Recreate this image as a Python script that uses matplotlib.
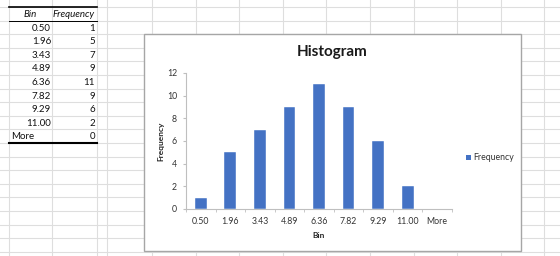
import matplotlib.pyplot as plt
from matplotlib.patches import Rectangle
import numpy as np

# data from the Analysis ToolPak output
bin_labels = ['0.50', '1.96', '3.43', '4.89', '6.36', '7.82', '9.29', '11.00', 'More']
freqs = [1, 5, 7, 9, 11, 9, 6, 2, 0]

plt.rcParams['font.family'] = ['Lato', 'DejaVu Sans']

W, H = 560, 256
fig = plt.figure(figsize=(W / 100, H / 100), dpi=100)

# spreadsheet background, pixel coordinates
bg = fig.add_axes([0, 0, 1, 1])
bg.set_xlim(0, W)
bg.set_ylim(H, 0)
bg.axis('off')

grid_c = '#dedede'
row_y = [7 + 13.6 * k for k in range(19)]
col_x = [9, 52, 96.5, 107] + [152 + 43.6 * k for k in range(10)]
for y in row_y:
    bg.plot([0, W], [y, y], color=grid_c, lw=0.8, zorder=1)
for x in col_x:
    bg.plot([x, x], [0, H], color=grid_c, lw=0.8, zorder=1)

# output table
txt_c = '#111111'
fs_t = 7
bg.text(30.5, 14.5, 'Bin', ha='center', va='center', style='italic', fontsize=fs_t, color=txt_c, zorder=3)
bg.text(74, 14.5, 'Frequency', ha='center', va='center', style='italic', fontsize=fs_t, color=txt_c, zorder=3)
for i, (lab, f) in enumerate(zip(bin_labels, freqs)):
    yc = 14.5 + 13.6 * (i + 1)
    if lab == 'More':
        bg.text(11, yc, lab, ha='left', va='center', fontsize=fs_t, color=txt_c, zorder=3)
    else:
        bg.text(51, yc, lab, ha='right', va='center', fontsize=fs_t, color=txt_c, zorder=3)
    bg.text(95, yc, str(f), ha='right', va='center', fontsize=fs_t, color=txt_c, zorder=3)
bg.plot([9, 97], [7, 7], color='black', lw=1.2, zorder=3)
bg.plot([9, 97], [21, 21], color='black', lw=0.7, zorder=3)
bg.plot([9, 97], [143, 143], color='black', lw=1.5, zorder=3)

# chart area
bg.add_patch(Rectangle((144, 34), 521 - 144, 251 - 34, facecolor='white',
                       edgecolor='#a6a6a6', lw=1.0, zorder=2))
bg.text(332, 52, 'Histogram', ha='center', va='center', fontsize=11,
        fontweight='bold', color='#1a1a1a', zorder=3)
bg.text(161, 141, 'Frequency', ha='center', va='center', rotation=90,
        fontsize=6, fontweight='bold', color='#262626', zorder=3)
bg.text(319, 235, 'Bin', ha='center', va='center', fontsize=6,
        fontweight='bold', color='#262626', zorder=3)

# legend
bar_c = '#4472C4'
bg.add_patch(Rectangle((465.5, 154.5), 5, 5, facecolor=bar_c, edgecolor='none', zorder=3))
bg.text(473, 157, 'Frequency', ha='left', va='center', fontsize=6.3, color='#333333', zorder=3)

# plot area
ax = fig.add_axes([186 / W, 1 - 209 / H, (452 - 186) / W, (209 - 73) / H])
ax.patch.set_alpha(0)
x = np.arange(len(freqs))
ax.bar(x, freqs, width=0.4, color=bar_c, edgecolor='white', linewidth=0.3)
ax.set_xlim(-0.5, len(freqs) - 0.5)
ax.set_ylim(0, 12)
ax.set_yticks(np.arange(0, 13, 2))
ax.set_xticks(x)
ax.set_xticklabels(bin_labels)
ax.set_xticks(np.arange(-0.5, len(freqs)), minor=True)
ax.tick_params(axis='x', which='major', length=0, pad=5.5, labelsize=6.3, labelcolor='#333333')
ax.tick_params(axis='x', which='minor', length=2.5, color='#bfbfbf', direction='out')
ax.tick_params(axis='y', length=2.5, color='#bfbfbf', pad=4, labelsize=6.3, labelcolor='#333333')
for s in ['top', 'right']:
    ax.spines[s].set_visible(False)
for s in ['left', 'bottom']:
    ax.spines[s].set_color('#bfbfbf')
    ax.spines[s].set_linewidth(0.8)

fig.savefig('out.png', dpi=100)
